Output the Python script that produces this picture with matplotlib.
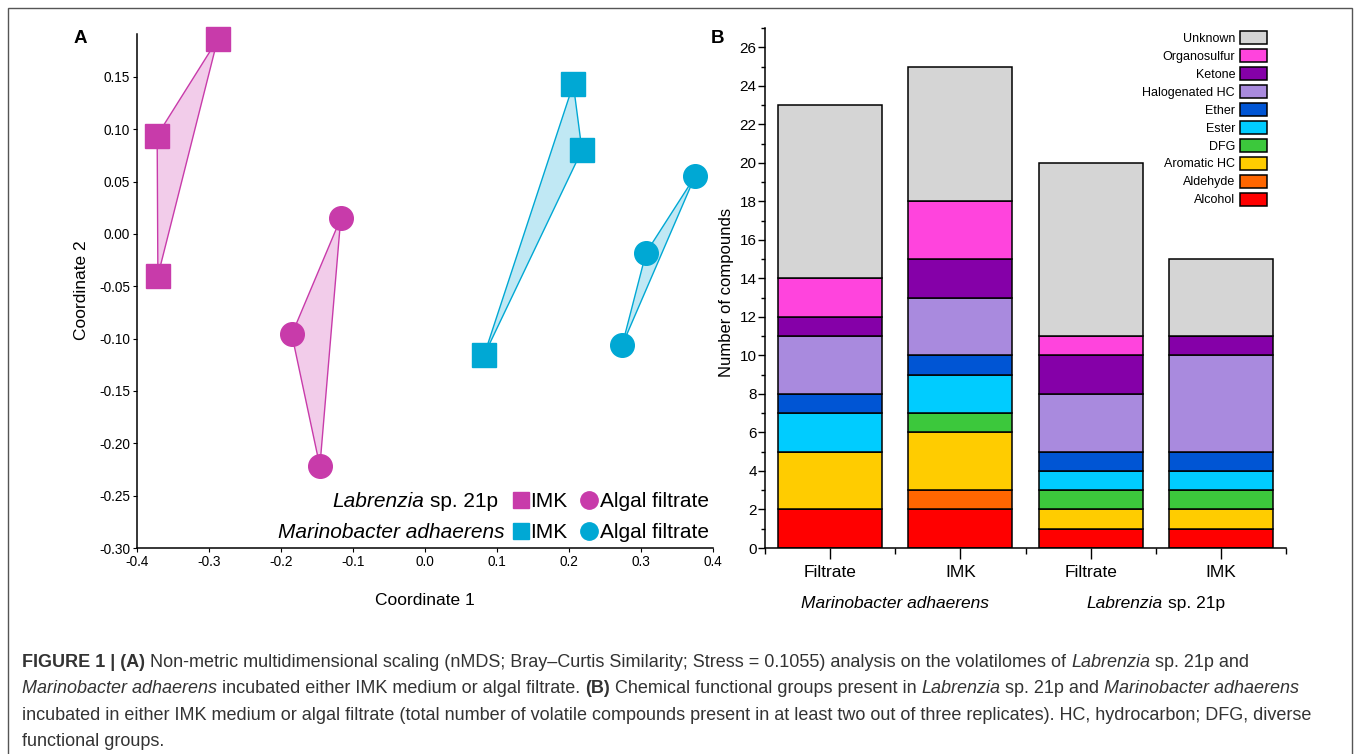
# two panel figure: nMDS of volatilomes (A) and stacked functional groups (B)

import matplotlib
matplotlib.use('Agg')
import matplotlib.pyplot as plt
from matplotlib.lines import Line2D
from matplotlib.patches import Patch, Rectangle
from matplotlib.ticker import MultipleLocator, FormatStrFormatter

SANS = ['Liberation Sans', 'DejaVu Sans']
plt.rcParams['axes.unicode_minus'] = False
plt.rcParams['font.family'] = SANS

# panel A - nMDS coordinates, three replicates per group
lab_imk_x = [-0.288, -0.372, -0.371]
lab_imk_y = [0.186, 0.094, -0.040]
lab_alg_x = [-0.117, -0.185, -0.146]
lab_alg_y = [0.015, -0.096, -0.222]
mar_imk_x = [0.206, 0.218, 0.082]
mar_imk_y = [0.143, 0.080, -0.116]
mar_alg_x = [0.375, 0.307, 0.274]
mar_alg_y = [0.055, -0.018, -0.106]

# panel B - number of compounds per functional group
samples = ['Filtrate', 'IMK', 'Filtrate', 'IMK']
groups = ['Alcohol', 'Aldehyde', 'Aromatic HC', 'DFG', 'Ester', 'Ether',
          'Halogenated HC', 'Ketone', 'Organosulfur', 'Unknown']
alcohol = [2, 2, 1, 1]
aldehyde = [0, 1, 0, 0]
aromatic = [3, 3, 1, 1]
dfg = [0, 1, 1, 1]
ester = [2, 2, 1, 1]
ether = [1, 1, 1, 1]
halogenated = [3, 3, 3, 5]
ketone = [1, 2, 2, 1]
organosulfur = [2, 3, 1, 0]
unknown = [9, 7, 9, 4]
counts = [alcohol, aldehyde, aromatic, dfg, ester, ether,
          halogenated, ketone, organosulfur, unknown]
colors = ['#FF0000', '#FF6600', '#FFCC00', '#3CC83C', '#00CCFF', '#0055D4',
          '#A98ADE', '#8500A8', '#FF44DD', '#D5D5D5']

MAGENTA = '#C83BAA'
PINK = '#F2CCEA'
CYAN = '#00A8D4'
LIGHTBLUE = '#C0E8F4'


def draw_runs(fig, x, y, runs, size, ha='left', color='black', family=SANS):
    """ draw a line of text made of runs with different styles (b / i),
        x and y in figure fractions, y is the baseline """
    renderer = fig.canvas.get_renderer()
    W = fig.bbox.width

    def width(s, weight, style):
        t = fig.text(0, 0, s, fontsize=size, fontweight=weight,
                     fontstyle=style, family=family)
        w = t.get_window_extent(renderer).width
        t.remove()
        return w

    items = []
    for s, st in runs:
        weight = 'bold' if 'b' in st else 'normal'
        style = 'italic' if 'i' in st else 'normal'
        space = width('n n', weight, style) - width('nn', weight, style)
        lead = len(s) - len(s.lstrip(' '))
        trail = len(s) - len(s.rstrip(' '))
        core = s.strip(' ')
        w = width(core, weight, style) if core else 0
        items.append((core, weight, style, lead * space, w, trail * space))
    total = sum(a + b + c for _, _, _, a, b, c in items) / W
    if ha == 'left':
        pos = x
    elif ha == 'right':
        pos = x - total
    else:
        pos = x - total / 2
    for core, weight, style, lead, w, trail in items:
        pos += lead / W
        if core:
            fig.text(pos, y, core, fontsize=size, fontweight=weight,
                     fontstyle=style, family=family, color=color,
                     va='baseline', ha='left')
        pos += (w + trail) / W


fig = plt.figure(figsize=(13.58, 7.54), dpi=100)
fig.patches.append(Rectangle((8 / 1358, -0.05), 1344 / 1358, 1 - 8 / 754 + 0.05,
                             transform=fig.transFigure, fill=False,
                             edgecolor='#555555', linewidth=1))

# ---------------- panel A ----------------
ax_a = fig.add_axes([137 / 1358, 1 - 548 / 754, 576 / 1358, 514 / 754])
for xs, ys, col, fill in [(lab_imk_x, lab_imk_y, MAGENTA, PINK),
                          (lab_alg_x, lab_alg_y, MAGENTA, PINK),
                          (mar_imk_x, mar_imk_y, CYAN, LIGHTBLUE),
                          (mar_alg_x, mar_alg_y, CYAN, LIGHTBLUE)]:
    ax_a.fill(xs, ys, facecolor=fill, edgecolor=col, linewidth=1, zorder=1)
for xs, ys, mk, col in [(lab_imk_x, lab_imk_y, 's', MAGENTA),
                        (lab_alg_x, lab_alg_y, 'o', MAGENTA),
                        (mar_imk_x, mar_imk_y, 's', CYAN),
                        (mar_alg_x, mar_alg_y, 'o', CYAN)]:
    ax_a.plot(xs, ys, mk, color=col, markersize=17, zorder=3, clip_on=False)

ax_a.set_xlim(-0.4, 0.4)
ax_a.set_ylim(-0.30, 0.191)
ax_a.xaxis.set_major_locator(MultipleLocator(0.1))
ax_a.yaxis.set_major_locator(MultipleLocator(0.05))
ax_a.xaxis.set_major_formatter(FormatStrFormatter('%.1f'))
ax_a.yaxis.set_major_formatter(FormatStrFormatter('%.2f'))
for s in ['top', 'right']:
    ax_a.spines[s].set_visible(False)
for s in ['left', 'bottom']:
    ax_a.spines[s].set_linewidth(1.1)
ax_a.tick_params(direction='out', length=3, width=0.8, labelsize=9.8, pad=2)
ax_a.set_xlabel('Coordinate 1', fontsize=12.5)
ax_a.set_ylabel('Coordinate 2', fontsize=12.5)
ax_a.xaxis.set_label_coords(0.5, -0.088)
ax_a.yaxis.set_label_coords(-0.083, 0.502)

# legend of panel A drawn as text and marker glyphs
fig.canvas.draw()
legend_rows = [([('Labrenzia', 'i'), (' sp. 21p', '')], MAGENTA, 0.080, 0.626),
               ([('Marinobacter adhaerens', 'i')], CYAN, 0.020, 0.638)]
for runs, col, yfrac, xend in legend_rows:
    fx, fy = fig.transFigure.inverted().transform(
        ax_a.transAxes.transform((xend, yfrac)))
    draw_runs(fig, fx, fy, runs, 15, ha='right')
    ax_a.add_line(Line2D([0.666], [yfrac + 0.014], marker='s', color=col,
                         markersize=11.5, transform=ax_a.transAxes, clip_on=False))
    ax_a.text(0.682, yfrac, 'IMK', transform=ax_a.transAxes, fontsize=15,
              va='baseline')
    ax_a.add_line(Line2D([0.784], [yfrac + 0.014], marker='o', color=col,
                         markersize=12.5, transform=ax_a.transAxes, clip_on=False))
    ax_a.text(0.804, yfrac, 'Algal filtrate', transform=ax_a.transAxes,
              fontsize=15, va='baseline')

# ---------------- panel B ----------------
ax_b = fig.add_axes([765 / 1358, 1 - 548 / 754, 521 / 1358, 520 / 754])
xpos = list(range(len(samples)))
bottom = [0] * len(samples)
for name, vals, col in zip(groups, counts, colors):
    ax_b.bar(xpos, vals, width=0.8, bottom=bottom, color=col,
             edgecolor='black', linewidth=1.1, label=name, zorder=2)
    bottom = [b + v for b, v in zip(bottom, vals)]

ax_b.set_xlim(-0.5, 3.5)
ax_b.set_ylim(0, 27)
ax_b.yaxis.set_major_locator(MultipleLocator(2))
ax_b.yaxis.set_minor_locator(MultipleLocator(1))
ax_b.set_xticks(xpos)
ax_b.set_xticklabels(samples, fontsize=12.5)
ax_b.set_xticks([-0.5, 0.5, 1.5, 2.5, 3.5], minor=True)
for s in ['top', 'right']:
    ax_b.spines[s].set_visible(False)
for s in ['left', 'bottom']:
    ax_b.spines[s].set_linewidth(1.1)
ax_b.tick_params(axis='y', which='major', direction='out', length=5,
                 width=1, labelsize=11, pad=1)
ax_b.tick_params(axis='y', which='minor', direction='out', length=3, width=1)
ax_b.tick_params(axis='x', which='major', direction='out', length=8,
                 width=1, pad=4)
ax_b.tick_params(axis='x', which='minor', direction='out', length=4, width=1)
ax_b.set_ylabel('Number of compounds', fontsize=12)
ax_b.yaxis.set_label_coords(-0.06, 0.492)

handles = [Patch(facecolor=c, edgecolor='black', linewidth=1.1) for c in colors]
leg = ax_b.legend(handles[::-1], groups[::-1], loc='upper right',
                  bbox_to_anchor=((1267 - 765) / 521, 0.994), frameon=False,
                  markerfirst=False, handlelength=2.2, handleheight=1.25,
                  labelspacing=0.33, borderpad=0, borderaxespad=0,
                  handletextpad=0.35, prop={'family': SANS, 'size': 9})

# species names below the sample labels
fig.canvas.draw()
for center, runs in [(0.5, [('Marinobacter adhaerens', 'i')]),
                     (2.5, [('Labrenzia', 'i'), (' sp. 21p', '')])]:
    fx = fig.transFigure.inverted().transform(
        ax_b.transData.transform((center, 0)))[0]
    draw_runs(fig, fx, 1 - 608 / 754, runs, 12.5, ha='center')

# panel letters
fig.text(74 / 1358, 1 - 43 / 754, 'A', fontsize=13.5, fontweight='bold')
fig.text(711 / 1358, 1 - 43 / 754, 'B', fontsize=13.5, fontweight='bold')

# caption
caption = [
    [('FIGURE 1 | (A)', 'b'),
     (' Non-metric multidimensional scaling (nMDS; Bray\u2013Curtis Similarity; '
      'Stress = 0.1055) analysis on the volatilomes of ', ''),
     ('Labrenzia', 'i'), (' sp. 21p and', '')],
    [('Marinobacter adhaerens', 'i'),
     (' incubated either IMK medium or algal filtrate. ', ''), ('(B)', 'b'),
     (' Chemical functional groups present in ', ''), ('Labrenzia', 'i'),
     (' sp. 21p and ', ''), ('Marinobacter adhaerens', 'i')],
    [('incubated in either IMK medium or algal filtrate (total number of volatile '
      'compounds present in at least two out of three replicates). HC, '
      'hydrocarbon; DFG, diverse', '')],
    [('functional groups.', '')],
]
for i, runs in enumerate(caption):
    draw_runs(fig, 22 / 1358, 1 - (667 + 26.3 * i) / 754, runs, 13.0,
              ha='left', color='#333333')

fig.savefig('out.png', dpi=100)
